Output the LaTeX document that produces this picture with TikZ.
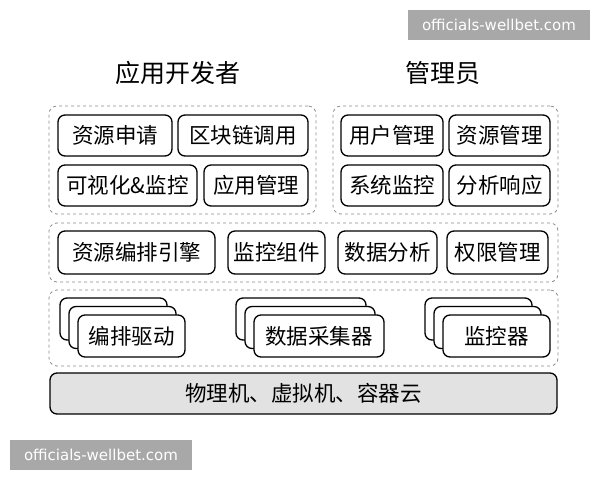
\documentclass[tikz,border=0pt]{standalone}
\usepackage{fontspec}
\setmainfont{Noto Sans CJK SC}
\newfontfamily\wmfont{DejaVu Sans}
\definecolor{wmgray}{HTML}{A8A8A8}
\definecolor{basefill}{HTML}{E2E2E2}
\definecolor{dashgray}{HTML}{8C8C8C}
\begin{document}
\begin{tikzpicture}[x=1pt,y=-1pt,
  box/.style={draw=black, line width=1.3pt, rounded corners=7pt, fill=white, inner sep=0pt,
    font=\fontsize{21.5}{24}\selectfont},
  grp/.style={draw=dashgray, dashed, line width=0.8pt, rounded corners=8pt, inner sep=0pt},
  ttl/.style={font=\fontsize{25}{28}\selectfont},
  wm/.style={fill=wmgray, text=white, inner sep=0pt, minimum width=182pt, minimum height=30pt,
    font=\wmfont\fontsize{15}{18}\selectfont}]
\useasboundingbox (0,0) rectangle (600,480);
% watermarks
\node[wm] (wm1) at (499,25) {officials-wellbet.com};
\node[wm] (wm2) at (101,455) {officials-wellbet.com};
% titles
\node[ttl] (t1) at (178,73) {应用开发者};
\node[ttl] (t2) at (443,73) {管理员};
% groups
\node[grp, minimum width=267pt, minimum height=108pt] (g1) at (182.5,160) {};
\node[grp, minimum width=225pt, minimum height=108pt] (g2) at (445.5,160) {};
\node[grp, minimum width=509pt, minimum height=59pt] (g3) at (303.5,252.5) {};
\node[grp, minimum width=509pt, minimum height=76pt] (g4) at (303.5,328) {};
% top-left boxes
\node[box, minimum width=114pt, minimum height=41pt] (a1) at (115,135.5) {资源申请};
\node[box, minimum width=130pt, minimum height=41pt] (a2) at (243,135.5) {区块链调用};
\node[box, minimum width=139pt, minimum height=41pt] (a3) at (127.5,185.5) {可视化\&监控};
\node[box, minimum width=104pt, minimum height=41pt] (a4) at (256,185.5) {应用管理};
% top-right boxes
\node[box, minimum width=102pt, minimum height=41pt] (b1) at (392,135.5) {用户管理};
\node[box, minimum width=101pt, minimum height=41pt] (b2) at (499.5,135.5) {资源管理};
\node[box, minimum width=102pt, minimum height=41pt] (b3) at (392,185.5) {系统监控};
\node[box, minimum width=101pt, minimum height=41pt] (b4) at (499.5,185.5) {分析响应};
% middle row
\node[box, minimum width=157pt, minimum height=43pt] (m1) at (136.5,252.5) {资源编排引擎};
\node[box, minimum width=97pt, minimum height=43pt] (m2) at (276.5,252.5) {监控组件};
\node[box, minimum width=99pt, minimum height=43pt] (m3) at (387.5,252.5) {数据分析};
\node[box, minimum width=101pt, minimum height=43pt] (m4) at (497.5,252.5) {权限管理};
% stacks
\foreach \n/\cx/\w/\t in {s1/131.5/107/编排驱动, s2/319/130/数据采集器, s3/496.5/107/监控器}{
  \node[box, minimum width=\w pt, minimum height=42pt] (\n c) at (\cx-18,336-17) {};
  \node[box, minimum width=\w pt, minimum height=42pt] (\n b) at (\cx-9,336-8.5) {};
  \node[box, minimum width=\w pt, minimum height=42pt] (\n) at (\cx,336) {\t};
}
% base
\node[box, fill=basefill, minimum width=507pt, minimum height=41pt] (base) at (303.5,393.5) {物理机、虚拟机、容器云};
\end{tikzpicture}
\end{document}
